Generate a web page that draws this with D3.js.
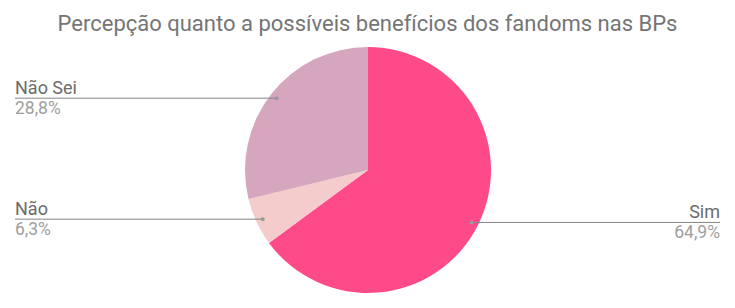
<!DOCTYPE html>
<html><head><meta charset="utf-8">
<script src="https://cdn.jsdelivr.net/npm/d3@7"></script>
<style>html,body{margin:0;padding:0;background:#fff;}svg{display:block;font-family:Roboto,sans-serif;}</style>
</head><body>
<svg id="c" width="735" height="308"></svg>
<script>
const title = "Percepção quanto a possíveis benefícios dos fandoms nas BPs";
const categories = ["Sim", "Não", "Não Sei"];
const values = [64.9, 6.3, 28.8];
const valueLabels = ["64,9%", "6,3%", "28,8%"];
const colors = ["#ff4a8a", "#f4cccc", "#d5a6bd"];

const W = 735, H = 308, cx = 368, cy = 170, R = 123;
const svg = d3.select("#c");
svg.append("text").attr("x", 367.5).attr("y", 31).attr("text-anchor", "middle")
  .attr("font-size", 22).attr("fill", "#757575").text(title);

const pie = d3.pie().sort(null).value(d => d.v);
const arcs = pie(categories.map((c, i) => ({c, v: values[i], l: valueLabels[i], col: colors[i]})));
const arc = d3.arc().innerRadius(0).outerRadius(R);
const g = svg.append("g").attr("transform", `translate(${cx},${cy})`);
g.selectAll("path").data(arcs).join("path").attr("d", arc).attr("fill", d => d.data.col);

const rDot = R * 0.945;
arcs.forEach(a => {
  const m = (a.startAngle + a.endAngle) / 2;
  const px = cx + rDot * Math.sin(m), py = cy - rDot * Math.cos(m);
  const right = Math.sin(m) > 0;
  const xEnd = right ? 720 : 15;
  svg.append("line").attr("x1", xEnd).attr("x2", px).attr("y1", py).attr("y2", py)
    .attr("stroke", "#858585").attr("stroke-width", 1);
  svg.append("circle").attr("cx", px).attr("cy", py).attr("r", 2).attr("fill", "#999");
  const anchor = right ? "end" : "start";
  svg.append("text").attr("x", xEnd).attr("y", py - 4.5).attr("text-anchor", anchor)
    .attr("font-size", 18).attr("fill", "#6b6b6b").text(a.data.c);
  svg.append("text").attr("x", xEnd).attr("y", py + 16).attr("text-anchor", anchor)
    .attr("font-size", 17.5).attr("fill", "#9e9e9e").text(a.data.l);
});
</script>
</body></html>
